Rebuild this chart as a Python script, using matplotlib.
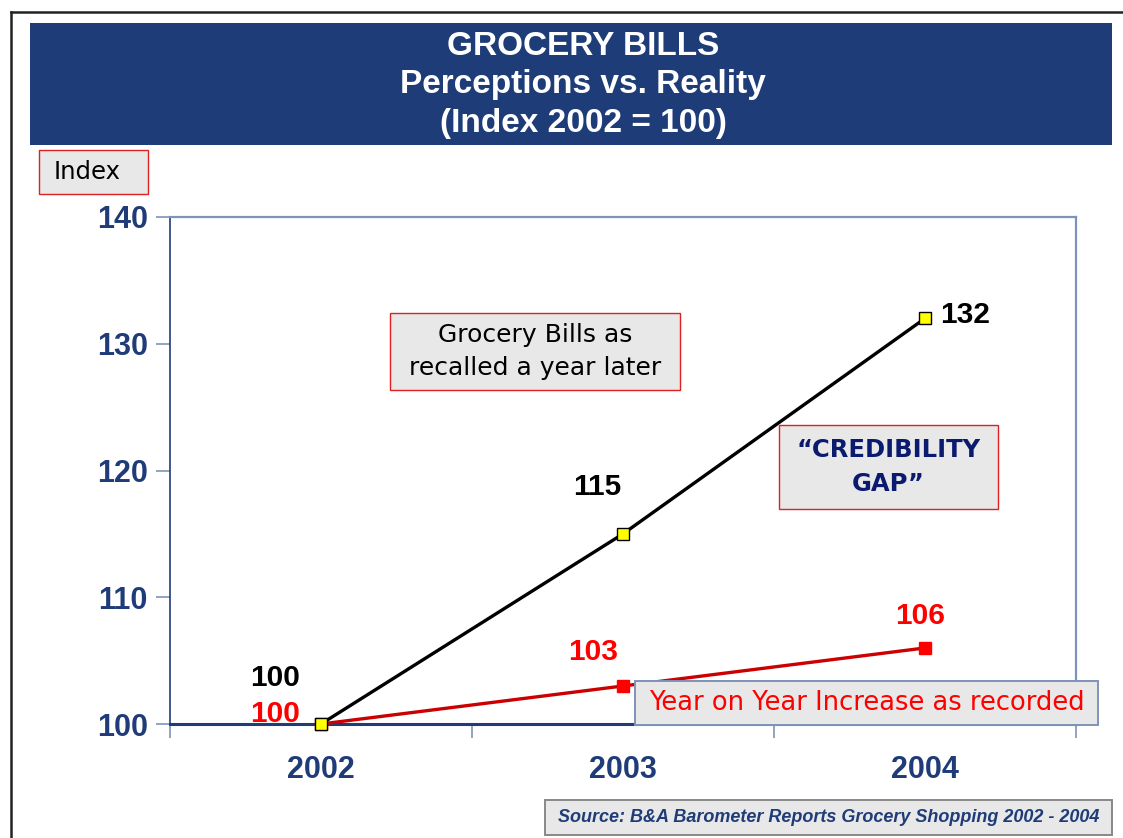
import matplotlib.pyplot as plt
from matplotlib.patches import Rectangle
from matplotlib.lines import Line2D

# data
years = ['2002', '2003', '2004']
recalled = [100, 115, 132]
recorded = [100, 103, 106]
y_ticks = [100, 110, 120, 130, 140]

NAVY = '#1f3c78'
W, H = 1123, 838


def fx(x):
    return x / W


def fy(y):
    return 1 - y / H


fig = plt.figure(figsize=(W / 100, H / 100), dpi=100)
fig.patch.set_facecolor('white')

# outer frame (top and left edge)
fig.add_artist(Line2D([fx(11), fx(11)], [fy(12), 0], color='#222222', lw=1.8))
fig.add_artist(Line2D([fx(11), 1], [fy(12), fy(12)], color='#222222', lw=1.8))

# title banner
fig.add_artist(Rectangle((fx(30), fy(145)), fx(1112) - fx(30), fy(23) - fy(145),
                         transform=fig.transFigure, facecolor='#1e3c77', edgecolor='none'))
fig.text(fx(583), fy(85), 'GROCERY BILLS\nPerceptions vs. Reality\n(Index 2002 = 100)',
         ha='center', va='center', color='white', fontsize=24, fontweight='bold',
         family='Liberation Sans', linespacing=1.33)

ax = fig.add_axes([fx(170), fy(724), fx(1076) - fx(170), fy(217) - fy(724)])
x = list(range(len(years)))

ax.plot(x, recorded, color='#cc0000', lw=2.4, marker='s', markersize=9,
        markerfacecolor='#ff0000', markeredgecolor='#ff0000', zorder=3, clip_on=False)
ax.plot(x, recalled, color='black', lw=2.4, marker='s', markersize=8.5,
        markerfacecolor='#ffff00', markeredgecolor='black', markeredgewidth=1,
        zorder=4, clip_on=False)

ax.set_xlim(-0.5, 2.5)
ax.set_ylim(100, 140)
ax.set_yticks(y_ticks)
ax.set_yticklabels([str(v) for v in y_ticks])
ax.set_xticks(x)
ax.set_xticklabels(years)
ax.set_xticks([-0.5, 0.5, 1.5, 2.5], minor=True)
ax.tick_params(axis='x', which='major', length=0, pad=22)
ax.tick_params(axis='x', which='minor', length=10, width=1.2, color='#7f93b8', direction='out')
ax.tick_params(axis='y', length=10, width=1.2, color='#7f93b8', direction='out', pad=6)
for lab in ax.get_xticklabels() + ax.get_yticklabels():
    lab.set_fontsize(22)
    lab.set_fontweight('bold')
    lab.set_color(NAVY)
    lab.set_family('Liberation Sans')

ax.spines['left'].set_color(NAVY)
ax.spines['left'].set_linewidth(1.2)
ax.spines['bottom'].set_color(NAVY)
ax.spines['bottom'].set_linewidth(2.2)
for side in ('top', 'right'):
    ax.spines[side].set_color('#7f93b8')
    ax.spines[side].set_linewidth(1.6)

# value labels
px2pt = 0.72
num_font = dict(fontsize=21.5, fontweight='bold', family='Liberation Sans')
black_offsets = [(-46, 46), (-26, 47), (40, 3)]
red_offsets = [(-46, 10), (-30, 34), (-5, 32)]
for i, v in enumerate(recalled):
    dx, dy = black_offsets[i]
    ax.annotate(str(v), (x[i], v), xytext=(dx * px2pt, dy * px2pt), textcoords='offset points',
                ha='center', va='center', color='black', zorder=5, **num_font)
for i, v in enumerate(recorded):
    dx, dy = red_offsets[i]
    ax.annotate(str(v), (x[i], v), xytext=(dx * px2pt, dy * px2pt), textcoords='offset points',
                ha='center', va='center', color='#ff0000', zorder=5, **num_font)


def note_box(x0, y0, x1, y1, text, color, edge, size, weight='normal', style='normal',
             family='DejaVu Sans', lw=1.0, z=6, tx=None, ls=1.2):
    fig.add_artist(Rectangle((fx(x0), fy(y1)), fx(x1) - fx(x0), fy(y0) - fy(y1),
                             transform=fig.transFigure, facecolor='#e8e8e8',
                             edgecolor=edge, lw=lw, zorder=z))
    cx = (x0 + x1) / 2 if tx is None else tx
    fig.text(fx(cx), fy((y0 + y1) / 2), text, ha='center', va='center',
             color=color, fontsize=size, fontweight=weight, style=style, family=family,
             linespacing=ls, zorder=z + 1)


note_box(39, 150, 148, 194, 'Index', 'black', '#e02020', 17.5, tx=87)
note_box(390, 313, 680, 390, 'Grocery Bills as\nrecalled a year later', 'black', '#e02020', 18,
         ls=1.45)
note_box(779, 425, 998, 509, '\u201cCREDIBILITY\nGAP\u201d', '#0a1a6e', '#e02020', 17.5,
         weight='bold', ls=1.5)
note_box(635, 681, 1098, 725, 'Year on Year Increase as recorded', '#ff0000', '#7f93b8', 18.5,
         lw=1.4)
note_box(545, 800, 1112, 835, 'Source: B&A Barometer Reports Grocery Shopping 2002 - 2004',
         NAVY, '#888888', 13, weight='bold', style='italic', family='Liberation Sans', lw=1.4)

fig.savefig('out.png', dpi=100)
